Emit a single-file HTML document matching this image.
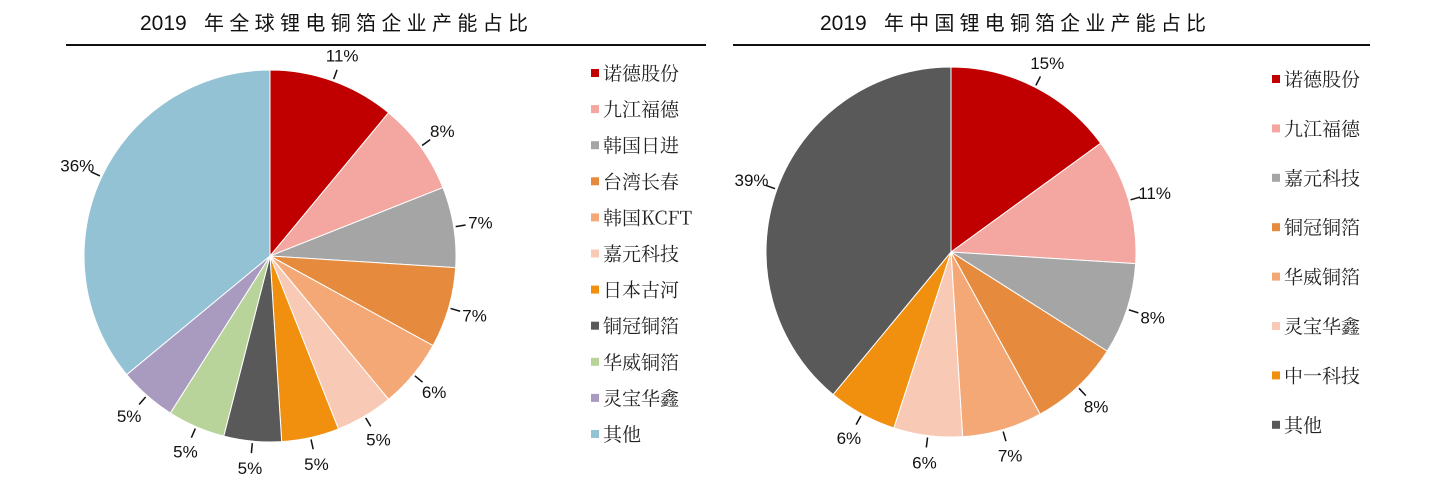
<!DOCTYPE html>
<html><head><meta charset="utf-8">
<style>
html,body{margin:0;padding:0;background:#fff;}
svg text{font-family:"Liberation Sans","Noto Sans CJK SC",sans-serif;}
.cjk{font-family:"Noto Serif CJK SC","Noto Sans CJK SC",serif;}
</style></head>
<body>
<svg id="chart" width="1446" height="478" viewBox="0 0 1446 478" xmlns="http://www.w3.org/2000/svg">
  <text x="140" y="30" font-size="21" fill="#111">2019</text>
  <text x="204" y="30" font-size="20" textLength="324" lengthAdjust="spacing" fill="#111">年全球锂电铜箔企业产能占比</text>
  <rect x="66" y="44" width="640" height="2" fill="#111"/>
  <text x="820" y="30" font-size="21" fill="#111">2019</text>
  <text x="884" y="30" font-size="20" textLength="322" lengthAdjust="spacing" fill="#111">年中国锂电铜箔企业产能占比</text>
  <rect x="733" y="44" width="637" height="2" fill="#111"/>
  <g id="left"></g>
  <g id="right"></g>
</svg>
<script>
const leftCategories = ["诺德股份","九江福德","韩国日进","台湾长春","韩国KCFT","嘉元科技","日本古河","铜冠铜箔","华威铜箔","灵宝华鑫","其他"];
const leftValues = [11,8,7,7,6,5,5,5,5,5,36];
const rightCategories = ["诺德股份","九江福德","嘉元科技","铜冠铜箔","华威铜箔","灵宝华鑫","中一科技","其他"];
const rightValues = [15,11,8,8,7,6,6,39];

const leftColors = ["#C00000","#F4A6A0","#A5A5A5","#E68A3E","#F4A876","#F8C9B4","#F0900E","#595959","#B9D49B","#A99AC0","#93C2D5"];
const rightColors = ["#C00000","#F4A6A0","#A5A5A5","#E68A3E","#F4A876","#F8C9B4","#F0900E","#595959"];
const NS = "http://www.w3.org/2000/svg";

function mk(tag, attrs, parent){
  const e = document.createElementNS(NS, tag);
  for (const k in attrs) e.setAttribute(k, attrs[k]);
  parent.appendChild(e);
  return e;
}

function drawPie(g, cats, vals, colors, cx, cy, r, legX, legY0, legStep, prefix){
  const total = vals.reduce((a,b)=>a+b,0);
  const ang = v => v/total*2*Math.PI;
  let a0 = 0;
  const pt = (a, rr) => [cx + rr*Math.sin(a), cy - rr*Math.cos(a)];
  vals.forEach((v,i)=>{
    const a1 = a0 + ang(v);
    const p0 = pt(a0,r), p1 = pt(a1,r);
    const large = (a1-a0) > Math.PI ? 1 : 0;
    const path = mk("path", {d:`M${cx},${cy} L${p0[0]},${p0[1]} A${r},${r} 0 ${large} 1 ${p1[0]},${p1[1]} Z`, fill:colors[i], stroke:"#fff", "stroke-width":"1"}, g);
    
    
    const am = (a0+a1)/2;
    const e1 = pt(am, r+2), e2 = pt(am, r+12);
    const ln = mk("line", {x1:e1[0], y1:e1[1], x2:e2[0], y2:e2[1], stroke:"#111", "stroke-width":"1.5"}, g);
    
    
    const lp = pt(am, r+27);
    const t = mk("text", {x:lp[0], y:lp[1]+6, "font-size":"17", "text-anchor":"middle", fill:"#111"}, g);
    t.textContent = v + "%";
    
    
    a0 = a1;
  });
  cats.forEach((c,i)=>{
    const y = legY0 + i*legStep;
    const sw = mk("rect", {x:legX, y:y-4, width:8, height:8, fill:colors[i]}, g);
    
    
    const t = mk("text", {x:legX+12, y:y+7, "font-size":"19", fill:"#222", class:"cjk"}, g);
    t.textContent = c;
    
    
  });
}

drawPie(document.getElementById("left"), leftCategories, leftValues, leftColors, 270, 256, 186, 591, 73, 36.1, "left");
drawPie(document.getElementById("right"), rightCategories, rightValues, rightColors, 951, 252, 185, 1272, 79, 49.4, "right");
</script>
</body></html>
